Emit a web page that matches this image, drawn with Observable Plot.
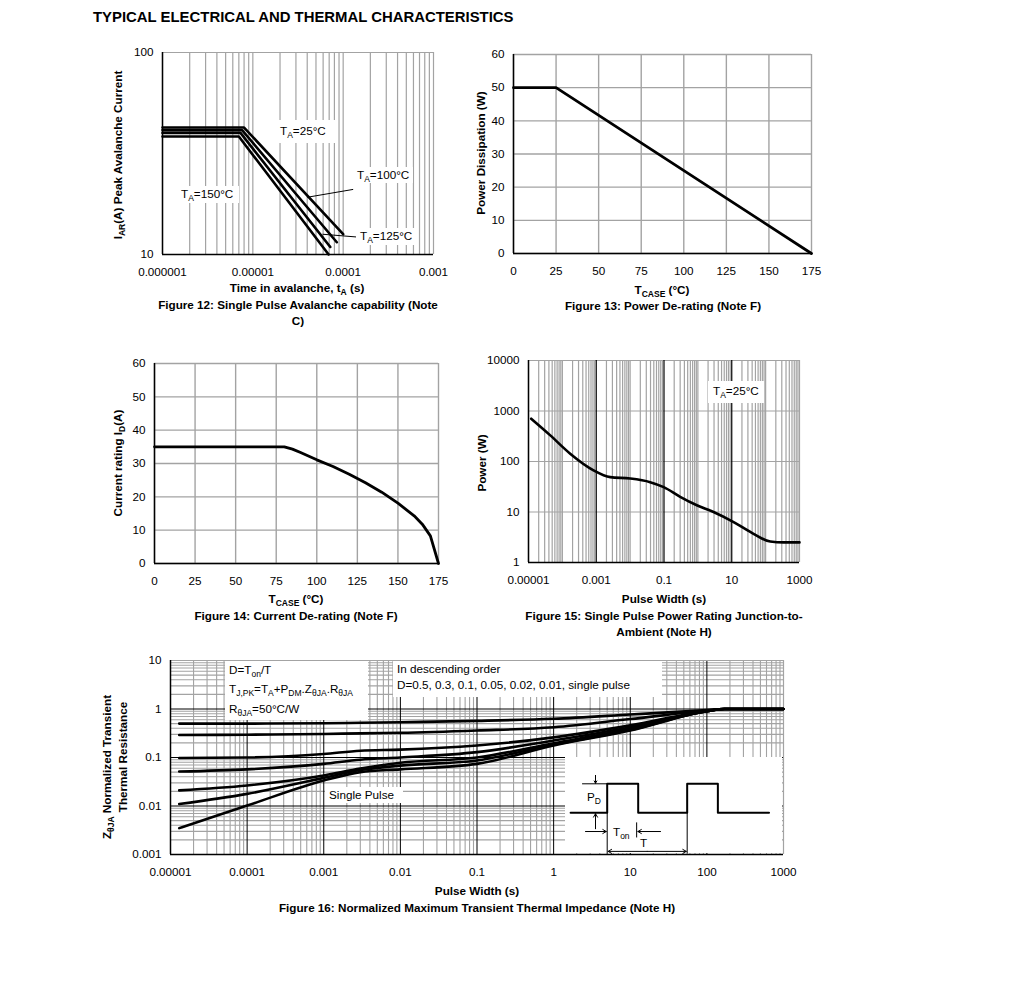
<!DOCTYPE html>
<html>
<head>
<meta charset="utf-8">
<script src="https://cdn.jsdelivr.net/npm/d3@7"></script>
<script src="https://cdn.jsdelivr.net/npm/@observablehq/plot@0.6"></script>
<style>
html,body{margin:0;padding:0;background:#fff;}
#page{position:relative;width:1020px;height:1008px;overflow:hidden;background:#fff;font-family:"Liberation Sans",Arial,Helvetica,sans-serif;color:#000;}
.t{position:absolute;font-size:11.7px;line-height:14px;white-space:nowrap;}
.b{font-weight:bold;}
.c{transform:translateX(-50%);}
.v{position:absolute;font-size:11.7px;line-height:14px;white-space:nowrap;font-weight:bold;transform:translate(-50%,-50%) rotate(-90deg);}
.w{position:absolute;background:#fff;}
sub{font-size:8.5px;line-height:0;vertical-align:baseline;position:relative;top:3px;}
.title{position:absolute;font-size:14.9px;line-height:18px;font-weight:bold;white-space:nowrap;}
</style>
</head>
<body>
<div id="page"></div>
<script>
// ================= DATA =================
// Figure 12: Single Pulse Avalanche capability
const avTicksX = [1e-6, 1e-5, 1e-4, 1e-3];
const avLabelsX = ["0.000001", "0.00001", "0.0001", "0.001"];
const avTicksY = [10, 100];
const avLabelsY = ["10", "100"];
const avSeries = ["TA=25°C", "TA=100°C", "TA=125°C", "TA=150°C"];
const avTime = [[1e-6, 8.0e-6, 1.0e-4], [1e-6, 7.6e-6, 8.5e-5], [1e-6, 7.3e-6, 7.2e-5], [1e-6, 7.0e-6, 6.9e-5]];
const avCurrent = [[42.5, 42.5, 12.6], [41.3, 41.3, 11.5], [40.0, 40.0, 10.9], [38.4, 38.4, 10.0]];
const avLeadX1 = [4.0e-5, 5.9e-5];
const avLeadY1 = [19.2, 12.6];
const avLeadX2 = [1.29e-4, 1.44e-4];
const avLeadY2 = [21.0, 12.2];

// Figure 13: Power De-rating
const pdTicksX = [0, 25, 50, 75, 100, 125, 150, 175];
const pdTicksY = [0, 10, 20, 30, 40, 50, 60];
const pdTemp = [0, 25, 175];
const pdPower = [50, 50, 0];

// Figure 14: Current De-rating
const idTicksX = [0, 25, 50, 75, 100, 125, 150, 175];
const idTicksY = [0, 10, 20, 30, 40, 50, 60];
const idTemp = [0, 80, 85, 90, 100, 110, 120, 130, 140, 150, 160, 165, 170, 175];
const idCurrent = [35, 35, 34.3, 33.3, 31.1, 29.1, 26.8, 24.2, 21.4, 18.1, 14.3, 11.8, 8.3, 0];

// Figure 15: Single Pulse Power Rating
const spTicksX = [1e-5, 1e-3, 0.1, 10, 1000];
const spLabelsX = ["0.00001", "0.001", "0.1", "10", "1000"];
const spTicksY = [1, 10, 100, 1000, 10000];
const spLabelsY = ["1", "10", "100", "1000", "10000"];
const spWidth = [1.2e-5, 4.4e-5, 1.7e-4, 8.3e-4, 2.6e-3, 1e-2, 0.039, 0.098, 0.3, 0.93, 2.9, 11, 44, 137, 340, 1000];
const spPower = [703, 329, 143, 67, 49, 46, 39, 31, 20, 13.6, 10, 6.4, 3.7, 2.6, 2.5, 2.5];

// Figure 16: Normalized Maximum Transient Thermal Impedance
const ztTicksX = [1e-5, 1e-4, 1e-3, 1e-2, 0.1, 1, 10, 100, 1000];
const ztLabelsX = ["0.00001", "0.0001", "0.001", "0.01", "0.1", "1", "10", "100", "1000"];
const ztTicksY = [0.001, 0.01, 0.1, 1, 10];
const ztLabelsY = ["0.001", "0.01", "0.1", "1", "10"];
const ztSeries = ["D=0.5", "D=0.3", "D=0.1", "D=0.05", "D=0.02", "D=0.01", "Single Pulse"];
const ztWidth = [1.3e-5, 1e-4, 1e-3, 3e-3, 0.01, 0.1, 1, 10, 100, 170, 1000];
const ztD05    = [0.50, 0.50, 0.51, 0.52, 0.535, 0.57, 0.63, 0.77, 0.95, 1.0, 1.0];
const ztD03    = [0.29, 0.295, 0.305, 0.315, 0.323, 0.36, 0.42, 0.62, 0.93, 1.0, 1.0];
const ztD01    = [0.098, 0.10, 0.118, 0.138, 0.145, 0.177, 0.26, 0.46, 0.91, 1.0, 1.0];
const ztD005   = [0.0515, 0.057, 0.074, 0.09, 0.10, 0.129, 0.224, 0.42, 0.90, 1.0, 1.0];
const ztD002   = [0.021, 0.0265, 0.0425, 0.059, 0.078, 0.10, 0.197, 0.39, 0.90, 1.0, 1.0];
const ztD001   = [0.011, 0.0178, 0.038, 0.055, 0.068, 0.087, 0.185, 0.37, 0.90, 1.0, 1.0];
const ztSingle = [0.0035, 0.0102, 0.0336, 0.05, 0.057, 0.074, 0.177, 0.36, 0.90, 1.0, 1.0];

// Figure 16 inset: pulse train schematic (time in units of Ton, power in units of PD)
const pulseT = [-1.18, 0, 0, 1.0, 1.0, 2.58, 2.58, 3.57, 3.57, 5.22];
const pulseP = [0, 0, 1, 1, 0, 0, 1, 1, 0, 0];
const guideX1 = [-0.81, 0, 2.58, 0.95];
const guideY1 = [1, 0, 0, -0.33];
const guideX2 = [0, 0, 2.58, 0.95];
const guideY2 = [1, -1.41, -1.41, -0.85];
const arrowX1 = [-0.377, -0.377, -0.70, 1.72, 1.29, 1.29];
const arrowY1 = [1.29, -0.55, -0.645, -0.645, -1.33, -1.33];
const arrowX2 = [-0.377, -0.377, -0.03, 0.99, 0.03, 2.55];
const arrowY2 = [1.02, -0.03, -0.645, -0.645, -1.33, -1.33];

// ================= HELPERS =================
const FONT = '"Liberation Sans", Arial, Helvetica, sans-serif';
const baseStyle = {fontFamily: FONT, fontSize: "11.7px", color: "#000", background: "transparent", overflow: "visible"};
const GRID = "#a3a3a3";
const page = document.getElementById("page");

function fmt(ticks, labels) { return d => { const i = ticks.indexOf(d); return i >= 0 ? labels[i] : ""; }; }
function logGrid(lo, hi) {
  const out = [];
  for (let e = Math.round(Math.log10(lo)); e <= Math.round(Math.log10(hi)); e++) {
    for (let k = 1; k <= 9; k++) {
      const v = k * Math.pow(10, e);
      if (v >= lo * 0.999 && v <= hi * 1.001) out.push(v);
    }
  }
  return out;
}
function put(svg, left, top) {
  svg.style.position = "absolute"; svg.style.left = left + "px"; svg.style.top = top + "px";
  svg.style.maxWidth = "none"; page.appendChild(svg);
}
function white(x1, y1, x2, y2) {
  const d = document.createElement("div"); d.className = "w";
  d.style.left = x1 + "px"; d.style.top = y1 + "px";
  d.style.width = (x2 - x1) + "px"; d.style.height = (y2 - y1) + "px";
  page.appendChild(d);
}
function label(html, x, y, cls = "") {
  const d = document.createElement("div"); d.className = "t " + cls; d.innerHTML = html;
  d.style.left = x + "px"; d.style.top = (y - 7) + "px"; page.appendChild(d); return d;
}
function vlabel(html, x, y) {
  const d = document.createElement("div"); d.className = "v"; d.innerHTML = html;
  d.style.left = x + "px"; d.style.top = y + "px"; page.appendChild(d); return d;
}

// ================= FIGURE 12 =================
const avRows = avSeries.flatMap((s, k) => avTime[k].map((t, i) => ({s, t, i: avCurrent[k][i]})));
const avLeads = avLeadX1.map((x, i) => ({x1: x, y1: avLeadY1[i], x2: avLeadX2[i], y2: avLeadY2[i]}));
const fig12 = Plot.plot({
  width: 361, height: 240, marginLeft: 60, marginRight: 30, marginTop: 8, marginBottom: 30,
  style: baseStyle,
  x: {type: "log", domain: [1e-6, 1e-3], ticks: avTicksX, tickFormat: fmt(avTicksX, avLabelsX), tickSize: 0, tickPadding: 13, label: null},
  y: {type: "log", domain: [10, 100], ticks: avTicksY, tickFormat: fmt(avTicksY, avLabelsY), tickSize: 0, tickPadding: 9, label: null},
  marks: [
    Plot.ruleX(logGrid(1e-6, 1e-3), {stroke: GRID, strokeWidth: 1.2}),
    Plot.ruleY([100], {stroke: GRID, strokeWidth: 1.2}),
    Plot.line(avRows, {x: "t", y: "i", z: "s", stroke: "#000", strokeWidth: 2.6}),
    Plot.link(avLeads, {x1: "x1", y1: "y1", x2: "x2", y2: "y2", stroke: "#000", strokeWidth: 1}),
    Plot.ruleX([1e-6], {stroke: "#000", strokeWidth: 1.5}),
    Plot.ruleY([10], {stroke: "#000", strokeWidth: 1.5})
  ]
});
put(fig12, 102, 44);

// ================= FIGURE 13 =================
const pdRows = pdTemp.map((t, i) => ({t, p: pdPower[i]}));
const fig13 = Plot.plot({
  width: 373, height: 237, marginLeft: 50, marginRight: 25, marginTop: 8, marginBottom: 30,
  style: baseStyle,
  x: {domain: [0, 175], ticks: pdTicksX, tickSize: 0, tickPadding: 13, label: null},
  y: {domain: [0, 60], ticks: pdTicksY, tickSize: 0, tickPadding: 9, label: null},
  marks: [
    Plot.ruleX(pdTicksX, {stroke: GRID, strokeWidth: 1.4}),
    Plot.ruleY(pdTicksY, {stroke: GRID, strokeWidth: 1.4}),
    Plot.line(pdRows, {x: "t", y: "p", stroke: "#000", strokeWidth: 2.8}),
    Plot.ruleX([0], {stroke: "#000", strokeWidth: 1.5}),
    Plot.ruleY([0], {stroke: "#000", strokeWidth: 1.5})
  ]
});
put(fig13, 463, 46);

// ================= FIGURE 14 =================
const idRows = idTemp.map((t, i) => ({t, a: idCurrent[i]}));
const fig14 = Plot.plot({
  width: 359, height: 238, marginLeft: 50, marginRight: 25, marginTop: 8, marginBottom: 30,
  style: baseStyle,
  x: {domain: [0, 175], ticks: idTicksX, tickSize: 0, tickPadding: 13, label: null},
  y: {domain: [0, 60], ticks: idTicksY, tickSize: 0, tickPadding: 9, label: null},
  marks: [
    Plot.ruleX(idTicksX, {stroke: GRID, strokeWidth: 1.4}),
    Plot.ruleY(idTicksY, {stroke: GRID, strokeWidth: 1.4}),
    Plot.line(idRows, {x: "t", y: "a", stroke: "#000", strokeWidth: 2.8}),
    Plot.ruleX([0], {stroke: "#000", strokeWidth: 1.5}),
    Plot.ruleY([0], {stroke: "#000", strokeWidth: 1.5})
  ]
});
put(fig14, 104, 355);

// ================= FIGURE 15 =================
const spRows = spWidth.map((w, i) => ({w, p: spPower[i]}));
const spGrid = logGrid(1e-5, 1e3);
const fig15 = Plot.plot({
  width: 346, height: 240, marginLeft: 50, marginRight: 25, marginTop: 8, marginBottom: 30,
  style: baseStyle,
  x: {type: "log", domain: [1e-5, 1e3], ticks: spTicksX, tickFormat: fmt(spTicksX, spLabelsX), tickSize: 0, tickPadding: 13, label: null},
  y: {type: "log", domain: [1, 1e4], ticks: spTicksY, tickFormat: fmt(spTicksY, spLabelsY), tickSize: 0, tickPadding: 9, label: null},
  marks: [
    Plot.ruleX(spGrid.filter(v => !spTicksX.slice(1, 4).includes(v)), {stroke: GRID, strokeWidth: 1.2}),
    Plot.ruleY(spTicksY, {stroke: GRID, strokeWidth: 1.2}),
    Plot.ruleX(spTicksX.slice(1, 4), {stroke: "#000", strokeWidth: 1.2}),
    Plot.line(spRows, {x: "w", y: "p", stroke: "#000", strokeWidth: 2.6, curve: "monotone-x"}),
    Plot.ruleX([1e-5], {stroke: "#000", strokeWidth: 1.5}),
    Plot.ruleY([1], {stroke: "#000", strokeWidth: 1.5})
  ]
});
put(fig15, 478, 352);

// ================= FIGURE 16 =================
const ztValues = [ztD05, ztD03, ztD01, ztD005, ztD002, ztD001, ztSingle];
const ztRows = ztSeries.flatMap((s, k) => ztWidth.map((w, i) => ({s, w, z: ztValues[k][i]})));
const ztGridX = logGrid(1e-5, 1e3);
const ztGridY = logGrid(1e-3, 10);
const fig16 = Plot.plot({
  width: 698, height: 232, marginLeft: 60, marginRight: 25, marginTop: 8, marginBottom: 30,
  style: baseStyle,
  x: {type: "log", domain: [1e-5, 1e3], ticks: ztTicksX, tickFormat: fmt(ztTicksX, ztLabelsX), tickSize: 0, tickPadding: 13, label: null},
  y: {type: "log", domain: [1e-3, 10], ticks: ztTicksY, tickFormat: fmt(ztTicksY, ztLabelsY), tickSize: 0, tickPadding: 9, label: null},
  marks: [
    Plot.ruleX(ztGridX.filter(v => !ztTicksX.includes(v)), {stroke: GRID, strokeWidth: 1.1}),
    Plot.ruleY(ztGridY.filter(v => !ztTicksY.includes(v)), {stroke: GRID, strokeWidth: 1.1}),
    Plot.ruleX(ztTicksX.slice(1, 8), {stroke: "#000", strokeWidth: 1}),
    Plot.ruleY(ztTicksY.slice(1, 4), {stroke: "#000", strokeWidth: 1}),
    Plot.ruleX([1e3], {stroke: GRID, strokeWidth: 1.2}),
    Plot.ruleY([10], {stroke: GRID, strokeWidth: 1.2}),
    Plot.line(ztRows, {x: "w", y: "z", z: "s", stroke: "#000", strokeWidth: 2.6, curve: "monotone-x"}),
    Plot.ruleX([1e-5], {stroke: "#000", strokeWidth: 1.5}),
    Plot.ruleY([1e-3], {stroke: "#000", strokeWidth: 1.5})
  ]
});
put(fig16, 110, 652);

// ================= TEXT & ANNOTATIONS =================
const tt = document.createElement("div"); tt.className = "title";
tt.textContent = "TYPICAL ELECTRICAL AND THERMAL CHARACTERISTICS";
tt.style.left = "93px"; tt.style.top = "8px";
page.appendChild(tt);

// Fig 12
vlabel('I<sub>AR</sub>(A) Peak Avalanche Current', 118, 155);
label('Time in avalanche, t<sub>A</sub> (s)', 297, 288, "b c");
label('Figure 12: Single Pulse Avalanche capability (Note', 298, 305, "b c");
label('C)', 298, 321, "b c");
white(273, 120, 336, 143); label('T<sub>A</sub>=25°C', 280, 131);
white(352, 167, 413, 183); label('T<sub>A</sub>=100°C', 357, 175);
white(177, 186, 239, 203); label('T<sub>A</sub>=150°C', 181, 194);
white(356, 228, 416, 245); label('T<sub>A</sub>=125°C', 360, 236);

// Fig 13
vlabel('Power Dissipation (W)', 481, 153);
label('T<sub>CASE</sub> (°C)', 662, 290, "b c");
label('Figure 13: Power De-rating (Note F)', 663, 306, "b c");

// Fig 14
vlabel('Current rating I<sub>D</sub>(A)', 118, 463);
label('T<sub>CASE</sub> (°C)', 296, 599, "b c");
label('Figure 14: Current De-rating (Note F)', 296, 616, "b c");

// Fig 15
vlabel('Power (W)', 482, 463);
label('Pulse Width (s)', 664, 599, "b c");
label('Figure 15: Single Pulse Power Rating Junction-to-', 664, 616, "b c");
label('Ambient (Note H)', 664, 632, "b c");
white(708, 381, 764, 403); label('T<sub>A</sub>=25°C', 713, 391);

// Fig 16
vlabel('Z<sub>θJA</sub> Normalized Transient', 107, 767);
vlabel('Thermal Resistance', 123, 757);
label('Pulse Width (s)', 477, 891, "b c");
label('Figure 16: Normalized Maximum Transient Thermal Impedance (Note H)', 477, 908, "b c");
white(225, 661, 368, 720);
label('D=T<sub>on</sub>/T', 229, 670);
label('T<sub>J,PK</sub>=T<sub>A</sub>+P<sub>DM</sub>.Z<sub>θJA</sub>.R<sub>θJA</sub>', 229, 689);
label('R<sub>θJA</sub>=50°C/W', 229, 709);
white(393, 661, 662, 697);
label('In descending order', 397, 669);
label('D=0.5, 0.3, 0.1, 0.05, 0.02, 0.01, single pulse', 397, 685);
white(325, 787, 403, 803); label('Single Pulse', 329, 795);

// Inset schematic
const pulseRows = pulseT.map((t, i) => ({t, p: pulseP[i]}));
const guides = guideX1.map((x, i) => ({x1: x, y1: guideY1[i], x2: guideX2[i], y2: guideY2[i]}));
const arrows = arrowX1.map((x, i) => ({x1: x, y1: arrowY1[i], x2: arrowX2[i], y2: arrowY2[i]}));
const inset = Plot.plot({
  width: 217, height: 96, margin: 0,
  style: {...baseStyle, background: "#fff"},
  x: {domain: [-1.345, 5.655], axis: null},
  y: {domain: [-1.403, 1.907], axis: null},
  marks: [
    Plot.link(guides, {x1: "x1", y1: "y1", x2: "x2", y2: "y2", stroke: "#000", strokeWidth: 1}),
    Plot.arrow(arrows, {x1: "x1", y1: "y1", x2: "x2", y2: "y2", stroke: "#000", strokeWidth: 1, headLength: 6}),
    Plot.line(pulseRows, {x: "t", y: "p", stroke: "#000", strokeWidth: 2, curve: "linear"})
  ]
});
put(inset, 565, 757);
label('P<sub>D</sub>', 587, 797);
label('T<sub>on</sub>', 613, 832);
label('T', 640, 843);
</script>
</body>
</html>
